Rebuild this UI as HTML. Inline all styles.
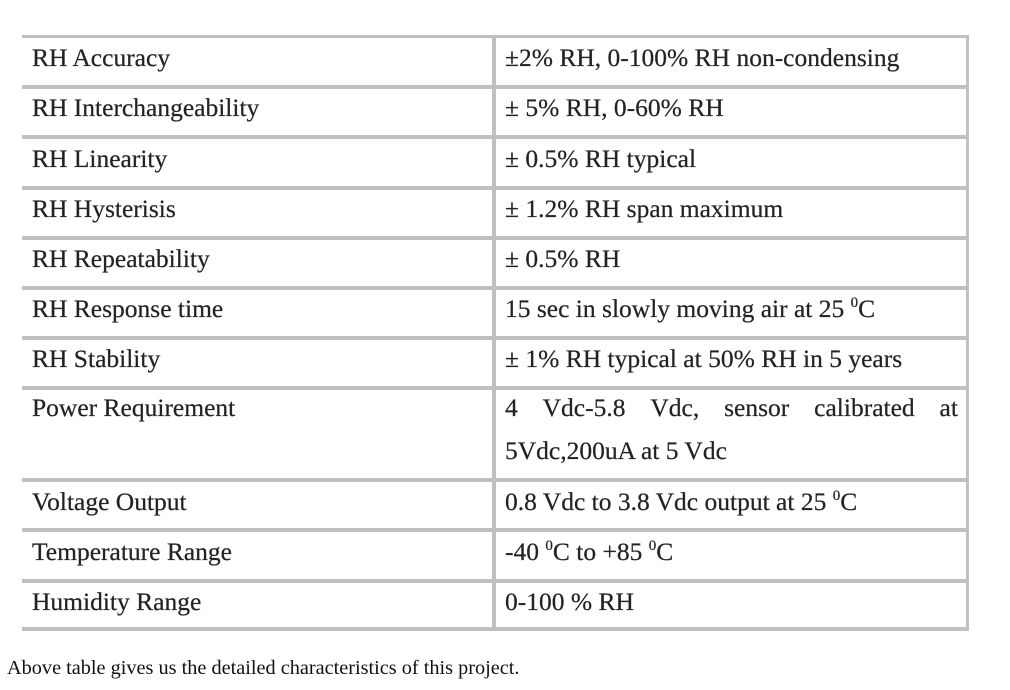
<!DOCTYPE html>
<html>
<head>
<meta charset="utf-8">
<style>
  html, body { margin:0; padding:0; background:#fff; }
  body { width:1010px; height:690px; position:relative; overflow:hidden;
         font-family:"Liberation Serif", "Times New Roman", serif; color:#222; }
  .h { position:absolute; left:22px; width:947px; height:4px; background:#c0c0c0; }
  .v { position:absolute; top:35px; height:596px; background:#c0c0c0; }
  .t { position:absolute; font-size:25.5px; line-height:25px; white-space:nowrap; -webkit-text-stroke:0.25px #333; }
  .l { left:32px; }
  .r { left:505px; }
  .s { font-size:15px; vertical-align:10px; line-height:0; }
  .cap { position:absolute; left:7px; font-size:20.3px; line-height:20px; white-space:nowrap; color:#111; }
  .just { position:absolute; left:505px; width:453px; display:flex; justify-content:space-between; font-size:25.5px; line-height:25px; -webkit-text-stroke:0.25px #333; }
</style>
</head>
<body>
  <div class="h" style="top:35px;height:3px;"></div>
  <div class="h" style="top:85px;"></div>
  <div class="h" style="top:135px;"></div>
  <div class="h" style="top:186px;"></div>
  <div class="h" style="top:236px;"></div>
  <div class="h" style="top:286px;"></div>
  <div class="h" style="top:336px;"></div>
  <div class="h" style="top:386px;"></div>
  <div class="h" style="top:478px;"></div>
  <div class="h" style="top:528px;"></div>
  <div class="h" style="top:579px;"></div>
  <div class="h" style="top:627px;"></div>
  <div class="v" style="left:492px;width:4px;"></div>
  <div class="v" style="left:966px;width:3px;"></div>

  <div class="t l" style="top:45px;">RH Accuracy</div>
  <div class="t l" style="top:95px;">RH Interchangeability</div>
  <div class="t l" style="top:146px;">RH Linearity</div>
  <div class="t l" style="top:196px;">RH Hysterisis</div>
  <div class="t l" style="top:246px;">RH Repeatability</div>
  <div class="t l" style="top:296px;">RH Response time</div>
  <div class="t l" style="top:346px;">RH Stability</div>
  <div class="t l" style="top:395px;">Power Requirement</div>
  <div class="t l" style="top:489px;">Voltage Output</div>
  <div class="t l" style="top:539px;">Temperature Range</div>
  <div class="t l" style="top:589px;">Humidity Range</div>

  <div class="t r" style="top:45px;">±2% RH, 0-100% RH non-condensing</div>
  <div class="t r" style="top:95px;">± 5% RH, 0-60% RH</div>
  <div class="t r" style="top:146px;">± 0.5% RH typical</div>
  <div class="t r" style="top:196px;">± 1.2% RH span maximum</div>
  <div class="t r" style="top:246px;">± 0.5% RH</div>
  <div class="t r" style="top:296px;">15 sec in slowly moving air at 25 <span class="s">0</span>C</div>
  <div class="t r" style="top:346px;">± 1% RH typical at 50% RH in 5 years</div>
  <div class="just" style="top:395px;"><span>4</span><span>Vdc-5.8</span><span>Vdc,</span><span>sensor</span><span>calibrated</span><span>at</span></div>
  <div class="t r" style="top:438px;">5Vdc,200uA at 5 Vdc</div>
  <div class="t r" style="top:489px;">0.8 Vdc to 3.8 Vdc output at 25 <span class="s">0</span>C</div>
  <div class="t r" style="top:539px;">-40 <span class="s">0</span>C to +85 <span class="s">0</span>C</div>
  <div class="t r" style="top:589px;">0-100 % RH</div>

  <div class="cap" style="top:658px;">Above table gives us the detailed characteristics of this project.</div>
</body>
</html>
